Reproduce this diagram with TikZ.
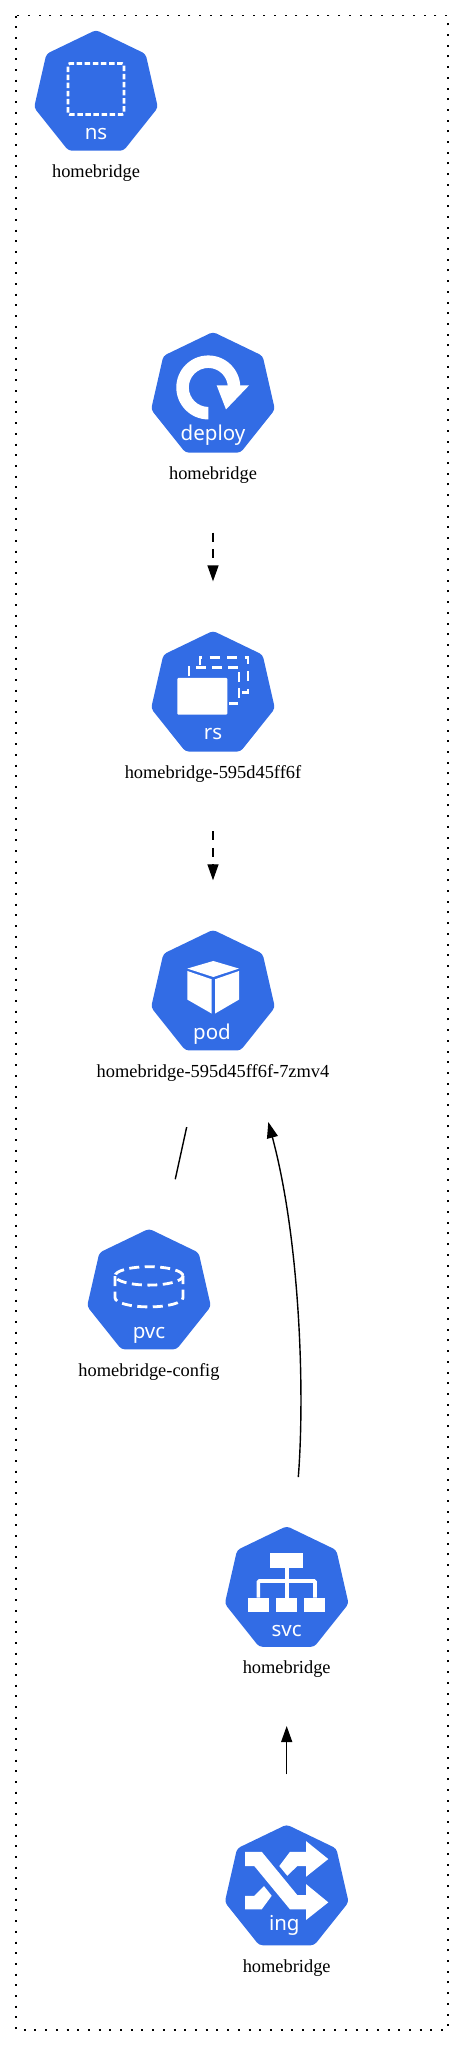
\documentclass[tikz,border=0pt]{standalone}
\usepackage{fontspec}
\setmainfont{Liberation Serif}
\newfontfamily\iconfont{Noto Sans}
\usetikzlibrary{positioning,shapes.geometric,arrows.meta}
\definecolor{kubeblue}{HTML}{326CE5}

\begin{document}
\begin{tikzpicture}[
	x=1pt, y=1pt,
	node distance=178.2pt and 0pt,
	kicon/.style={regular polygon, regular polygon sides=7, minimum size=127pt, inner sep=0pt, outer sep=0pt, fill=kubeblue, rounded corners=3.5pt},
	klabel/.style={font=\fontsize{18.4pt}{20pt}\selectfont, inner sep=0pt, text height=13pt, text depth=5pt, below=13.8pt of #1},
	ktext/.style={font=\iconfont\fontsize{20.5pt}{22pt}\selectfont, text=white, inner sep=0pt, anchor=base},
	glyphdash/.style={draw=white, line width=2.8pt},
	kdep/.style={-{Triangle[length=16pt,width=11pt]}, line width=1.4pt, dash pattern=on 9pt off 7.5pt},
	kuse/.style={-{Triangle[length=16pt,width=11pt]}, line width=1.4pt},
	nsglyph/.pic={
		\draw[glyphdash, rounded corners=2pt, dash pattern=on 5.5pt off 2.6pt] (-28,-21) rectangle (28,30);
	},
	deployglyph/.pic={
		\fill[white] (-4.7,-24) arc[start angle=270, end angle=0, radius=32] -- (14.8,8) arc[start angle=0, end angle=270, radius=19.5] -- cycle;
		\fill[white] (3.7,10) -- (36,10) -- (13,-14) -- cycle;
	},
	rsglyph/.pic={
		\draw[glyphdash, dash pattern=on 10pt off 7.5pt] (-13,29) -- (-13,37) -- (35,37) -- (35,2) -- (27,2);
		\draw[glyphdash, dash pattern=on 10pt off 6pt] (-24,18) -- (-24,27) -- (26,27) -- (26,-9) -- (16,-9);
		\fill[white, rounded corners=1pt] (-35.7,-20.3) rectangle (14.3,16.4);
	},
	podglyph/.pic={
		\fill[white] (-25.7,24.7) -- (.3,32.3) -- (26,24.7) -- (.3,16.3) -- cycle;
		\fill[white] (-25.7,22.3) -- (-1.3,14) -- (-1.3,-20.3) -- (-25.7,-6.3) -- cycle;
		\fill[white] (2,14) -- (26,22.3) -- (26,-6.3) -- (2,-20.3) -- cycle;
	},
	pvcglyph/.pic={
		\draw[glyphdash, dash pattern=on 10pt off 5.5pt] (0,16.3) ellipse[x radius=34, y radius=9.2];
		\draw[glyphdash, dash pattern=on 10pt off 5.5pt] (-34,16) -- (-34,-5.5) arc[start angle=180, end angle=360, x radius=34, y radius=9.2] -- (34,16);
	},
	svcglyph/.pic={
		\fill[white] (-16.7,21.6) rectangle (16,36.6);
		\fill[white] (-38.7,-22.7) rectangle (-18,-8);
		\fill[white] (-10.7,-22.7) rectangle (10,-8);
		\fill[white] (17.6,-22.7) rectangle (38.3,-8);
		\draw[white, line width=3.6pt, rounded corners=1pt] (0,21.6) -- (0,-8);
		\draw[white, line width=3.6pt, rounded corners=1pt] (-28.4,-8) -- (-28.4,8.6) -- (28.3,8.6) -- (28.3,-8);
	},
	ingglyph/.pic={
		\fill[white] (-41.7,36.3) -- (-25,36.3) -- (10.6,-7) -- (19.3,-7) -- (19.3,4) -- (41.6,-14.3) -- (19.3,-32) -- (19.3,-21.3) -- (3.3,-21.3) -- (-32.4,22) -- (-41.7,22) -- cycle;
		\fill[white] (-7.4,22) -- (3.3,36.3) -- (19.3,36.3) -- (19.3,47) -- (41.6,29) -- (19.3,11.3) -- (19.3,22) -- (10.6,22) -- (.6,12.3) -- cycle;
		\fill[white] (-41.7,-7.7) -- (-32.4,-7.7) -- (-22.7,2) -- (-15,-7.7) -- (-25,-21.3) -- (-41.7,-21.3) -- cycle;
	}
	]
	\useasboundingbox (0,0) rectangle (464,-2046);
	
	\draw[line width=1.8pt, dash pattern=on 2pt off 8.7pt] (16,-15.5) rectangle (448,-2030);
	
	\node[kicon] (ns) at (96,-93.5) {};
	\node[kicon, below = 181.2pt of ns, xshift=117pt] (deploy) {};
	\node[kicon, below = of deploy] (rs) {};
	\node[kicon, below = of rs] (pod) {};
	\node[kicon, below = of pod, xshift=-64pt] (pvc) {};
	\node[kicon, below = 176.7pt of pvc, xshift=137.7pt] (svc) {};
	\node[kicon, below = 177.7pt of svc] (ing) {};
	
	\node[klabel=ns] (nslabel) {homebridge};
	\node[klabel=deploy] (deploylabel) {homebridge};
	\node[klabel=rs] (rslabel) {homebridge-595d45ff6f};
	\node[klabel=pod] (podlabel) {homebridge-595d45ff6f-7zmv4};
	\node[klabel=pvc] (pvclabel) {homebridge-config};
	\node[klabel=svc] (svclabel) {homebridge};
	\node[klabel=ing] (inglabel) {homebridge};
	
	\node[ktext] (nstext) at ([yshift=-46pt]ns.center) {ns};
	\node[ktext] (deploytext) at ([yshift=-45pt]deploy.center) {deploy};
	\node[ktext] (rstext) at ([yshift=-45pt]rs.center) {rs};
	\node[ktext] (podtext) at ([xshift=-1pt, yshift=-46pt]pod.center) {pod};
	\node[ktext] (pvctext) at ([yshift=-46pt]pvc.center) {pvc};
	\node[ktext] (svctext) at ([yshift=-46.5pt]svc.center) {svc};
	\node[ktext] (ingtext) at ([xshift=-2.4pt, yshift=-42pt]ing.center) {ing};
	
	\pic at (ns) {nsglyph};
	\pic at (deploy) {deployglyph};
	\pic at (rs) {rsglyph};
	\pic at (pod) {podglyph};
	\pic at (pvc) {pvcglyph};
	\pic at (svc) {svcglyph};
	\pic at (ing) {ingglyph};
	
	\coordinate (svcout) at ([shift={(11.6,49)}]svc.north);
	\coordinate (podin) at ([shift={(55.3,-128.7)}]pod.center);
	
	\draw[kdep, shorten <=47.7pt, shorten >=49.5pt] (deploylabel) -- (rs);
	\draw[kdep, shorten <=47.7pt, shorten >=49.5pt] (rslabel) -- (pod);
	\draw[line width=1.4pt, shorten <=137pt, shorten >=115.6pt] ([xshift=3pt]pod.center) -- ([xshift=1.5pt]pvc.center);
	\draw[kuse] (svcout) .. controls +(6.7,85.7) and +(31.7,-118.3) .. (podin);
	\draw[kuse, shorten <=50.2pt, shorten >=47pt] (ing) -- (svclabel);
\end{tikzpicture}
\end{document}
